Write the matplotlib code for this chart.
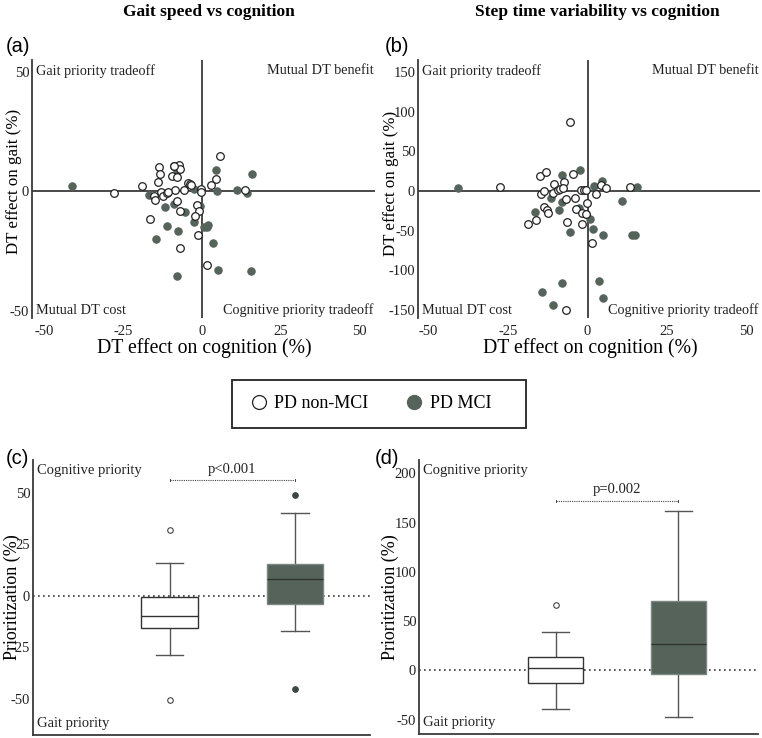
import numpy as np
import matplotlib
matplotlib.use("Agg")
import matplotlib.pyplot as plt
from matplotlib.lines import Line2D
from matplotlib.patches import Rectangle

plt.rcParams['font.family'] = ['Liberation Serif', 'DejaVu Serif']
plt.rcParams['axes.unicode_minus'] = False

# ---- data ----
# (a) gait speed vs cognition
a_open_x = [-28, -19, -15.1, -14.8, -13.9, -13.7, -13.3, -12.9, -12.4, -11.1, -9.5, -8.8, -8.6, -7.8,
            -7.4, -6.9, -7.9, -6.9, -16.5, -6.9, -5.6, -4.3, -3.8, -3.5, -1.4, -1.6, -0.9, -2.1, -0.4,
            -0.4, 1.5, 3.0, 4.4, 5.7, 13.7, -9.0, -10.8]
a_open_y = [-0.8, 2.1, -1.8, -3.7, 4.1, 10.4, 7.3, -0.4, -1.8, -0.8, 6.3, 10.8, 0.6, 5.9,
            11.1, 9.4, -3.9, -8.2, -11.4, -23.6, 0.7, 3.4, 3.3, 2.7, -18.2, -5.8, -8.2, -10.3, 1.0,
            -0.4, -31.0, 2.8, 5.1, 15.0, 0.4, 10.5, -0.4]
a_fill_x = [-41.2, -16.7, -11.6, -11.1, -14.5, -9.0, -7.9, -7.7, -5.5, -2.6, -2.4, -0.5, 0.5, 1.9,
            1.7, 3.5, 4.6, 4.7, 5.0, -8.0, 11.0, 14.4, 15.7, 15.8]
a_fill_y = [2.1, -1.5, -6.7, -14.6, -19.8, -5.2, 8.6, -16.7, -8.5, -12.8, 0.8, -6.2, -14.9, -13.9,
            -14.9, -21.6, 9.0, 0.0, -32.9, -35.6, 0.6, -0.8, -33.4, 7.3]

# (b) step time variability vs cognition
b_open_x = [-27.5, -18.7, -16.2, -14.9, -13.2, -14.7, -13.7, -13.6, -12.9, -12.4, -10.7, -10.8, -9.4,
            -8.7, -7.4, -7.7, -6.9, -6.6, -5.6, -4.5, -3.9, -3.6, -2.1, -1.6, -1.7, -1.2, -0.5, -0.3,
            -0.5, 1.4, 2.8, 4.2, 5.7, 13.3, -6.7]
b_open_y = [5.5, -41.2, -37.0, 18.5, 24.4, -3.4, -0.4, -20.2, -24.4, -27.3, 9.2, -2.5, 0.8,
            2.9, 11.3, 4.2, -9.7, -39.0, 87.0, 21.4, -8.8, -22.7, 0.8, -27.7, -41.2, 1.7, 1.7, -14.7,
            -28.6, -65.0, -4.2, 8.0, 3.8, 5.0, -149.6]
b_fill_x = [-40.6, -16.4, -11.4, -7.9, -8.9, -7.9, -5.5, -2.7, -2.3, -0.4, 0.7, 1.8, 1.9, 4.5,
            4.7, 10.9, 14.0, 15.0, 15.4, -14.2, -8.0, -10.9, 3.5, 4.7]
b_fill_y = [4.2, -26.9, -8.8, 20.6, -24.0, -14.5, -51.5, -21.0, 26.0, -29.5, -35.0, -47.5, 5.9, 12.6,
            -55.0, -12.4, -55.5, -55.5, 5.0, -127.7, -115.5, -143.3, -113.0, -134.5]

# (c) / (d) box plot summaries: [non-MCI, MCI]
c_med = [-9.9, 8.3]
c_q1 = [-15.7, -3.7]
c_q3 = [-0.6, 15.4]
c_lo = [-28.6, -17.0]
c_hi = [16.2, 40.1]
c_fliers = [[32.0, -50.5], [48.9, -45.0]]
c_pval = "p<0.001"

d_med = [2.0, 27.0]
d_q1 = [-12.8, -4.0]
d_q3 = [13.5, 70.3]
d_lo = [-39.1, -47.6]
d_hi = [38.9, 161.9]
d_fliers = [[66.3], []]
d_pval = "p=0.002"

groups = ["PD non-MCI", "PD MCI"]

DARK = "#55635a"
LINE = "#3a3a3a"

fig = plt.figure(figsize=(7.62, 7.38), dpi=100)
W, H = 762, 738


def px_axes(l, t, r, b):
    return fig.add_axes([l / W, 1 - b / H, (r - l) / W, (b - t) / H])


def scatter_panel(ax, ox, oy, fx, fy, xlim, ylim, yticks):
    ax.axhline(0, color=LINE, lw=1.3, zorder=1)
    ax.axvline(0, color=LINE, lw=1.3, zorder=1)
    ax.scatter(fx, fy, s=28, color=DARK, edgecolors=DARK, lw=0.8, zorder=3)
    ax.scatter(ox, oy, s=30, facecolors='white', edgecolors='#222222', lw=0.9, zorder=4)
    ax.set_xlim(*xlim)
    ax.set_ylim(*ylim)
    ax.set_xticks([-50, -25, 0, 25, 50])
    ax.set_yticks(yticks)
    for s in ['top', 'right', 'bottom']:
        ax.spines[s].set_visible(False)
    ax.spines['left'].set_color(LINE)
    ax.spines['left'].set_linewidth(1.3)
    ax.tick_params(length=0, labelsize=10.5, pad=2, colors='#222222')
    ax.tick_params(axis='x', pad=5)
    kw = dict(transform=ax.transAxes, fontsize=10.3, color='#222222')
    ax.text(0.012, 0.985, "Gait priority tradeoff", ha='left', va='top', **kw)
    ax.text(0.995, 0.985, "Mutual DT benefit", ha='right', va='top', **kw)
    ax.text(0.012, 0.005, "Mutual DT cost", ha='left', va='bottom', **kw)
    ax.text(0.995, 0.005, "Cognitive priority tradeoff", ha='right', va='bottom', **kw)
    ax.set_xlabel("DT effect on cognition (%)", fontsize=14.2)
    ax.set_ylabel("DT effect on gait (%)", fontsize=12.2)
    ax.xaxis.set_label_coords(0.503, -0.078)


def box_panel(ax, med, q1, q3, lo, hi, fliers, ylim, yticks, pval, bracket_y, text_y, xlim):
    stats = []
    for i in range(2):
        stats.append(dict(med=med[i], q1=q1[i], q3=q3[i], whislo=lo[i], whishi=hi[i], fliers=fliers[i]))
    ax.axhline(0, color=LINE, lw=1.2, ls=(0, (1, 2)), zorder=1)
    bp = ax.bxp(stats, positions=[1, 2], widths=0.45, capwidths=0.22, patch_artist=True,
                showfliers=True)
    cols = ['white', DARK]
    for i, box in enumerate(bp['boxes']):
        box.set_facecolor(cols[i])
        box.set_edgecolor('#333333' if i == 0 else '#7d8781')
        box.set_linewidth(1.0)
        box.set_zorder(3)
    for i, m in enumerate(bp['medians']):
        m.set_color('#333333' if i == 0 else '#2e3530')
        m.set_linewidth(1.0)
        m.set_zorder(4)
    for ln in bp['whiskers'] + bp['caps']:
        ln.set_color('#555555')
        ln.set_linewidth(1.0)
    for i, f in enumerate(bp['fliers']):
        f.set_marker('o')
        f.set_markersize(4)
        f.set_markeredgewidth(0.8)
        f.set_markeredgecolor('#444444' if i == 0 else '#3c4540')
        f.set_markerfacecolor('white' if i == 0 else '#3c4540')
    ax.plot([1, 2], [bracket_y, bracket_y], color='#444444', lw=0.8, ls=(0, (1, 1)))
    rng = ylim[1] - ylim[0]
    for xx in [1, 2]:
        ax.plot([xx, xx], [bracket_y - rng * 0.004, bracket_y + rng * 0.004], color='#444444', lw=0.7)
    ax.text(1.5, text_y, pval, ha='center', va='center', fontsize=10.5, color='#222222')
    ax.set_xlim(*xlim)
    ax.set_ylim(*ylim)
    ax.set_yticks(yticks)
    ax.set_xticks([])
    for s in ['top', 'right']:
        ax.spines[s].set_visible(False)
    for s in ['left', 'bottom']:
        ax.spines[s].set_color(LINE)
        ax.spines[s].set_linewidth(1.3)
    ax.tick_params(length=0, labelsize=10.5, pad=2, colors='#222222')
    kw = dict(transform=ax.transAxes, fontsize=10.5, color='#222222')
    ax.text(0.013, 0.985, "Cognitive priority", ha='left', va='top', **kw)
    ax.text(0.013, 0.02, "Gait priority", ha='left', va='bottom', **kw)
    ax.set_ylabel("Prioritization (%)", fontsize=13)


# panel axes placed in pixel coordinates of the reference
ax_a = px_axes(32, 60, 375, 318)
ax_b = px_axes(418, 60, 760, 318)
ax_c = px_axes(33, 460, 370, 735)
ax_d = px_axes(419, 460, 758, 734)

scatter_panel(ax_a, a_open_x, a_open_y, a_fill_x, a_fill_y, (-54, 55), (-53, 55), [-50, 0, 50])
ax_a.yaxis.set_label_coords(-0.03, 0.53)
scatter_panel(ax_b, b_open_x, b_open_y, b_fill_x, b_fill_y, (-53.3, 54.2), (-160, 165),
              [-150, -100, -50, 0, 50, 100, 150])
ax_b.yaxis.set_label_coords(-0.056, 0.52)

box_panel(ax_c, c_med, c_q1, c_q3, c_lo, c_hi, c_fliers, (-67.5, 66), [-50, -25, 0, 25, 50],
          c_pval, 56.2, 61.5, (-0.09, 2.6))
ax_c.yaxis.set_label_coords(-0.036, 0.5)
box_panel(ax_d, d_med, d_q1, d_q3, d_lo, d_hi, d_fliers, (-64.5, 213.5), [-50, 0, 50, 100, 150, 200],
          d_pval, 172, 184, (-0.115, 2.65))
ax_d.yaxis.set_label_coords(-0.06, 0.5)

# titles and panel letters
fig.text(209 / W, 1 - 12 / H, "Gait speed vs cognition", ha='center', va='center',
         fontsize=12.5, fontweight='bold')
fig.text(597 / W, 1 - 12 / H, "Step time variability vs cognition", ha='center', va='center',
         fontsize=12.5, fontweight='bold')
for lab, x, y in [("(a)", 6, 46), ("(b)", 385, 46), ("(c)", 6, 459), ("(d)", 375, 459)]:
    fig.text(x / W, 1 - y / H, lab, ha='left', va='center', fontsize=14.5,
             family=['Liberation Sans', 'DejaVu Sans'])

# legend: entries placed by the library, frame drawn as a box
handles = [
    Line2D([], [], ls='none', marker='o', markersize=10, markerfacecolor='white',
           markeredgecolor='#222222', markeredgewidth=0.9),
    Line2D([], [], ls='none', marker='o', markersize=10, markerfacecolor=DARK,
           markeredgecolor=DARK),
]
fig.legend(handles, groups, loc='center left', bbox_to_anchor=(248 / W, 1 - 404 / H), ncol=2,
           frameon=False, fontsize=13, handletextpad=0.25, columnspacing=1.95,
           borderpad=0, borderaxespad=0, handlelength=1.2)
fig.add_artist(Rectangle((231.7 / W, 1 - 428 / H), (526 - 231.7) / W, 48 / H,
                         transform=fig.transFigure, fill=False, edgecolor='#222222', lw=1.3))

fig.savefig("out.png", dpi=100)
